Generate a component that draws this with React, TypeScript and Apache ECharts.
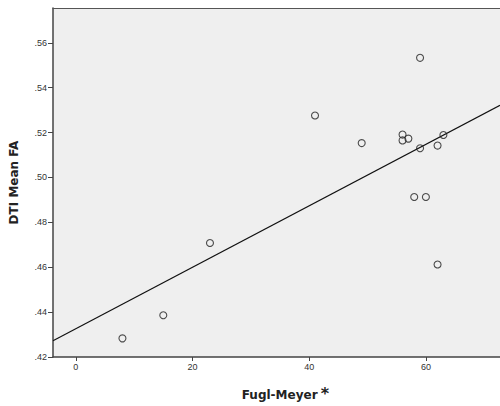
import React, { useEffect, useRef } from "react";
import * as echarts from "echarts";

const fuglMeyer = [8, 15, 23, 41, 49, 56, 56, 57, 59, 59, 58, 60, 62, 63, 62];
const meanFA = [0.4283, 0.4386, 0.4708, 0.5276, 0.5153, 0.5191, 0.5165, 0.5173, 0.5533, 0.513, 0.4913, 0.4913, 0.5142, 0.5189, 0.4612];
const xTicks = [0, 20, 40, 60];
const fitIntercept = 0.4326;
const fitSlope = 0.001369;
const xMin = -3.9;
const xMax = 72.7;
const yMin = 0.42;
const yMax = 0.5755;

export default function App() {
  const ref = useRef<HTMLDivElement>(null);
  useEffect(() => {
    if (!ref.current) return;
    const chart = echarts.init(ref.current, null, { renderer: "svg" });
    const points = fuglMeyer.map((x, i) => [x, meanFA[i]]);
    const fit = [xMin, xMax].map((x) => [x, fitIntercept + fitSlope * x]);
    const axisLineStyle = { color: "#444", width: 1.5 };
    chart.setOption({
      animation: false,
      backgroundColor: "#fff",
      grid: {
        left: 50,
        top: 8,
        right: 0,
        bottom: 38,
        show: true,
        backgroundColor: "#efefef",
        borderWidth: 0,
      },
      xAxis: [
        {
          type: "value",
          min: xMin,
          max: xMax,
          position: "bottom",
          name: "{a|Fugl-Meyer} {b|*}",
          nameLocation: "middle",
          nameGap: 28,
          nameTextStyle: {
            rich: {
              a: { fontFamily: "DejaVu Sans", fontWeight: "bold", fontSize: 12, color: "#222", padding: [0, 0, 0, 18] },
              b: { fontFamily: "DejaVu Sans", fontWeight: "bold", fontSize: 16, color: "#222", padding: [0, 0, 4, 0] },
            },
          },
          axisLine: { show: true, onZero: false, lineStyle: axisLineStyle },
          axisTick: { show: true, length: 4, lineStyle: { color: "#444" }, customValues: xTicks },
          axisLabel: {
            customValues: xTicks,
            fontSize: 9,
            color: "#333",
            fontFamily: "Liberation Sans",
            margin: 5,
          },
          splitLine: { show: false },
        },
        {
          type: "value",
          min: xMin,
          max: xMax,
          position: "top",
          axisLine: { show: true, onZero: false, lineStyle: { color: "#555", width: 1.2 } },
          axisTick: { show: false },
          axisLabel: { show: false },
          splitLine: { show: false },
        },
      ],
      yAxis: {
        type: "value",
        min: yMin,
        max: yMax,
        interval: 0.02,
        position: "left",
        name: "DTI Mean FA",
        nameLocation: "middle",
        nameGap: 33,
        nameTextStyle: { fontFamily: "DejaVu Sans", fontWeight: "bold", fontSize: 12, color: "#222" },
        axisLine: { show: true, onZero: false, lineStyle: axisLineStyle },
        axisTick: { show: true, length: 5, lineStyle: { color: "#444" } },
        axisLabel: {
          fontSize: 9,
          color: "#333",
          fontFamily: "Liberation Sans",
          margin: 6,
          showMaxLabel: false,
          formatter: (v: number) => (Math.abs(v - yMax) < 1e-6 ? "" : v.toFixed(2).replace(/^0/, "")),
        },
        splitLine: { show: false },
      },
      series: [
        {
          type: "line",
          data: fit,
          showSymbol: false,
          symbol: "none",
          lineStyle: { color: "#111", width: 1.2 },
          silent: true,
          z: 2,
        },
        {
          type: "scatter",
          data: points,
          symbol: "circle",
          symbolSize: 7,
          itemStyle: { color: "rgba(0,0,0,0)", borderColor: "#222", borderWidth: 1.1 },
          z: 3,
        },
      ],
    });
    return () => chart.dispose();
  }, []);
  return <div ref={ref} style={{ position: "absolute", left: 0, top: 0, width: 500, height: 406 }} />;
}
